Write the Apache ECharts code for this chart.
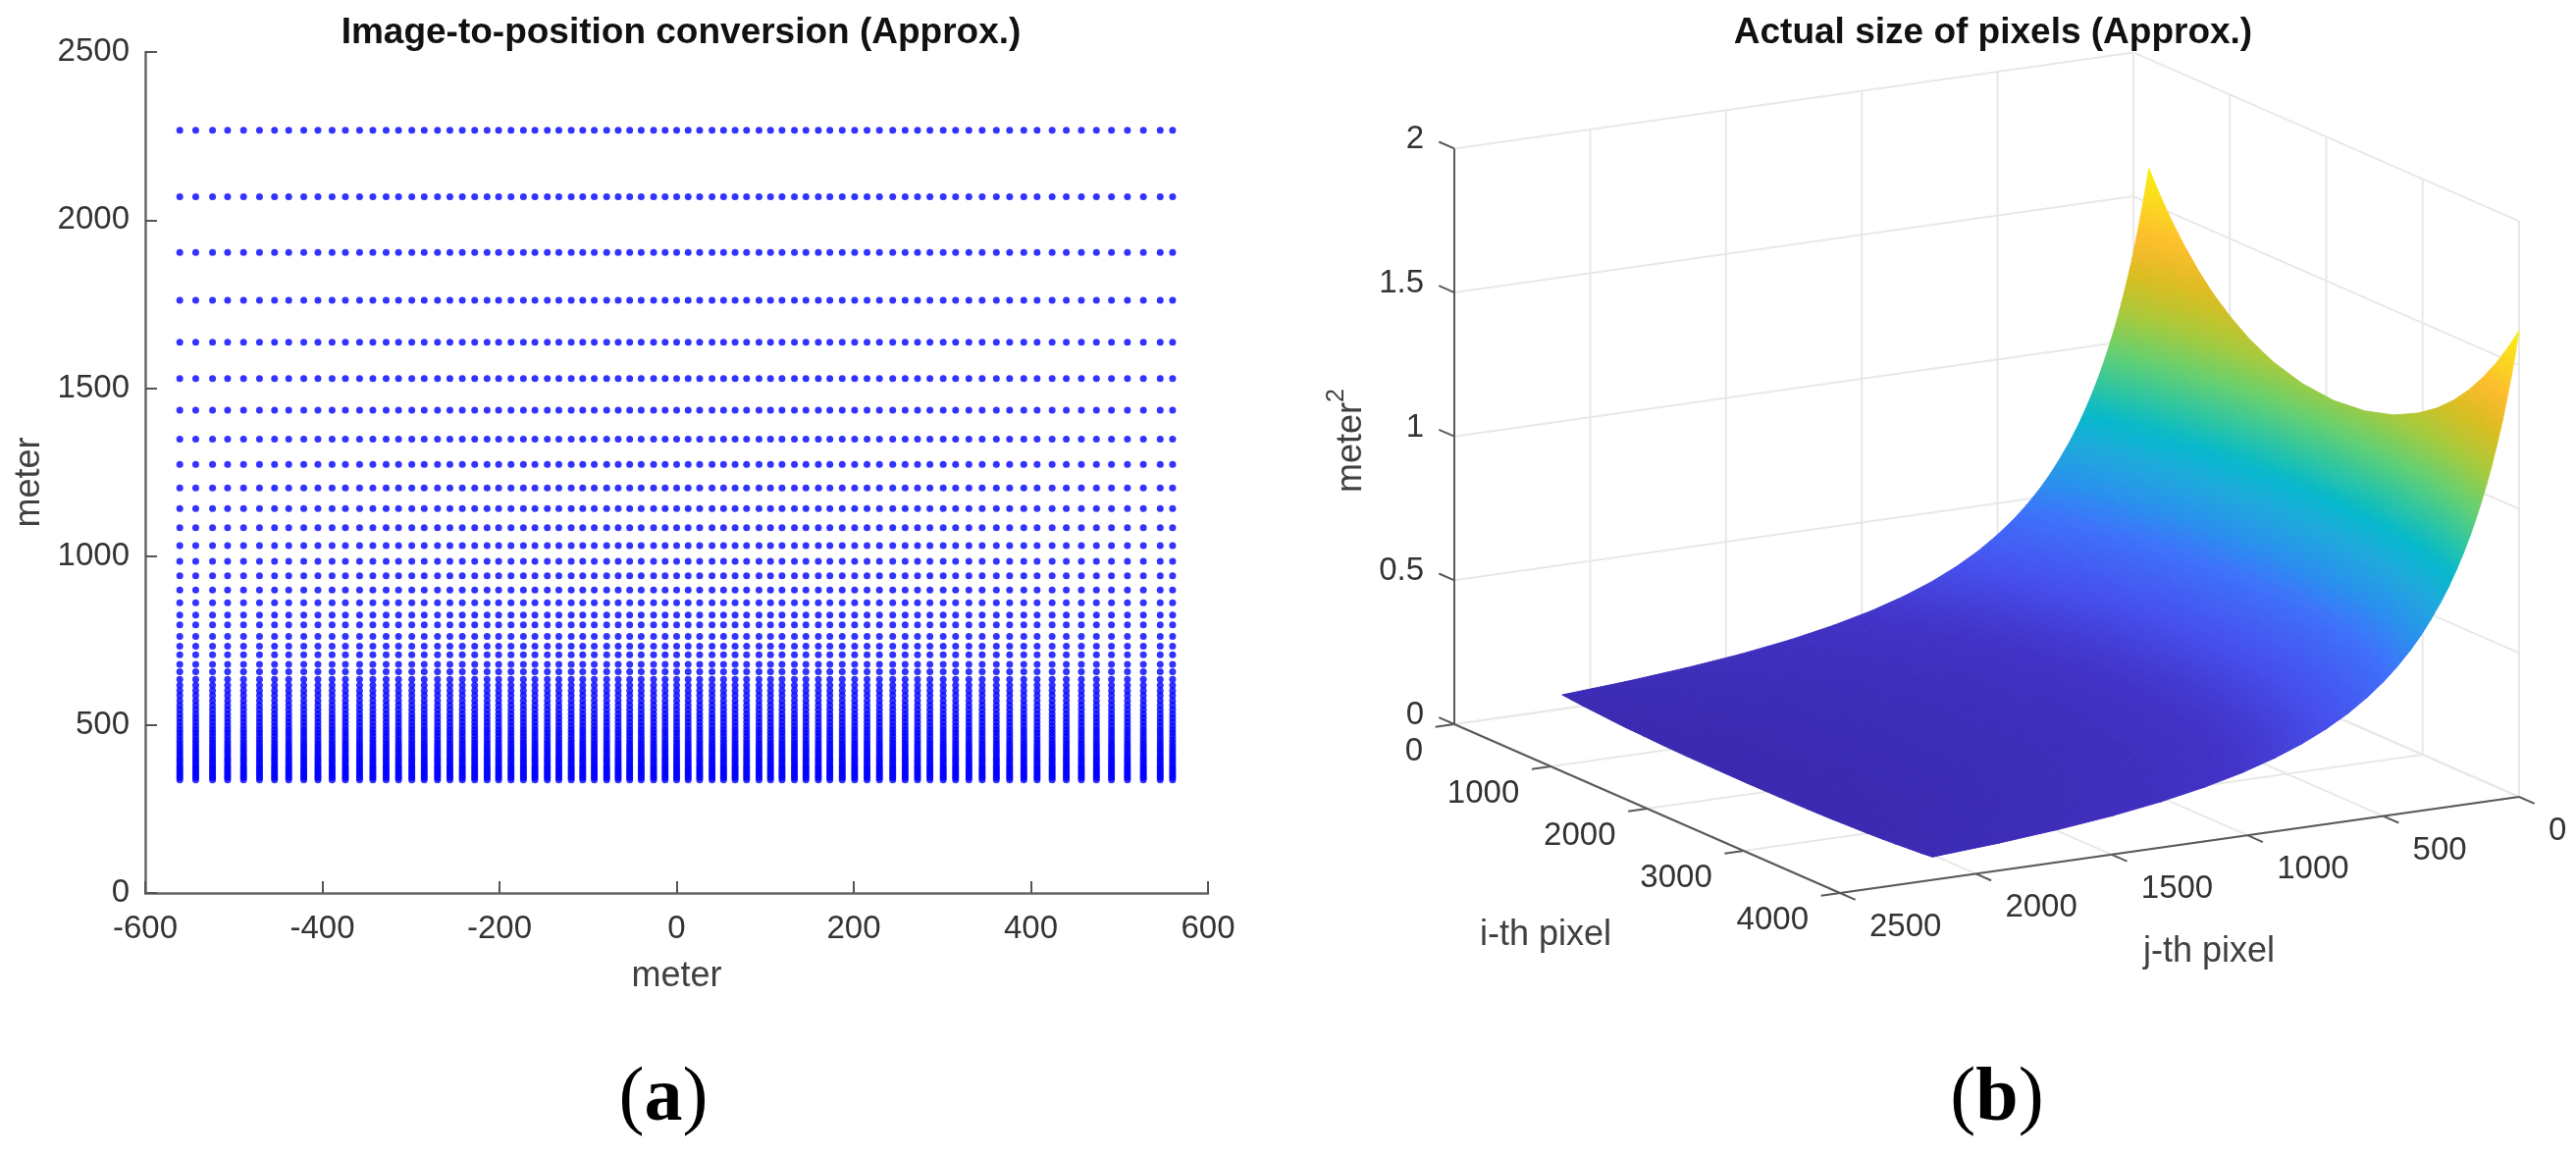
<!DOCTYPE html>
<html>
<head>
<meta charset="utf-8">
<title>Pixel position and size</title>
<script src="https://cdn.jsdelivr.net/npm/echarts@6/dist/echarts.min.js"></script>
<style>
html, body { margin: 0; padding: 0; background: #fff; }
#chart { width: 2625px; height: 1178px; }
</style>
</head>
<body>
<div id="chart"></div>
<script>
// left panel, ground position of the pixels (meter)
var columnX = [-561, -543, -524, -507, -489, -471, -454, -438, -421, -405, -389, -374, -358, -343, -328, -314,
    -299, -285, -270, -256, -242, -228, -214, -201, -187, -173, -160, -146, -133, -119, -106, -93, -79, -66, -53,
    -40, -26, -13, 0, 13, 26, 40, 53, 66, 79, 93, 106, 119, 133, 146, 160, 173, 187, 201, 215, 229, 244, 258, 272,
    286, 301, 315, 330, 345, 361, 376, 392, 407, 424, 440, 457, 474, 491, 509, 527, 546, 560];
var rowY = [2267, 2070, 1904, 1762, 1637, 1529, 1435, 1349, 1274, 1204, 1143, 1086, 1033, 986, 943, 901, 863, 826,
    797, 763, 734, 708, 680, 658, 635, 618, 602, 587, 572, 558, 545, 532, 520, 508, 497, 486, 476, 466, 456, 447,
    438, 430, 422, 414, 406, 399, 392, 385, 378, 372, 366, 360, 354, 348, 343, 336];

// right panel, pixel area (meter^2) read per column i and row j
var iPixel = [160, 260, 380, 520, 680, 820, 1000, 1200, 1450, 1750, 2080, 2400, 2700, 2950, 3150, 3320, 3480, 3620, 3760, 3890, 4000];
var jPixel = [0, 15, 30, 45, 60, 80, 100, 120, 140, 160, 180, 205, 230, 260, 290, 325, 360, 400, 450, 500, 560, 630, 710, 800, 900, 1020, 1160, 1320, 1500, 1700, 1920, 2160];
var pixelArea = [
    [1.62, 1.554, 1.482, 1.409, 1.338, 1.285, 1.230, 1.181, 1.137, 1.106, 1.095, 1.106, 1.136, 1.179, 1.226, 1.278, 1.338, 1.400, 1.471, 1.547, 1.62],
    [1.536, 1.473, 1.405, 1.336, 1.269, 1.218, 1.166, 1.120, 1.078, 1.049, 1.038, 1.049, 1.077, 1.118, 1.163, 1.212, 1.269, 1.327, 1.395, 1.467, 1.536],
    [1.459, 1.399, 1.335, 1.269, 1.205, 1.157, 1.107, 1.064, 1.024, .996, .986, .996, 1.023, 1.062, 1.104, 1.151, 1.205, 1.261, 1.325, 1.393, 1.459],
    [1.388, 1.331, 1.270, 1.208, 1.146, 1.101, 1.053, 1.012, .974, .948, .938, .948, .973, 1.010, 1.051, 1.095, 1.146, 1.199, 1.260, 1.326, 1.388],
    [1.32, 1.266, 1.208, 1.148, 1.090, 1.047, 1.002, .962, .927, .902, .892, .902, .925, .961, .999, 1.041, 1.090, 1.140, 1.199, 1.261, 1.32],
    [1.241, 1.190, 1.136, 1.080, 1.025, .984, .942, .905, .871, .848, .839, .848, .870, .903, .939, .979, 1.025, 1.072, 1.127, 1.185, 1.241],
    [1.167, 1.119, 1.068, 1.015, .964, .925, .886, .851, .819, .797, .789, .797, .818, .850, .883, .921, .964, 1.008, 1.060, 1.114, 1.167],
    [1.10, 1.055, 1.007, .957, .909, .872, .835, .802, .772, .751, .744, .751, .771, .801, .833, .868, .909, .950, .999, 1.051, 1.10],
    [1.04, .997, .952, .905, .859, .825, .789, .758, .730, .710, .703, .710, .729, .757, .787, .821, .859, .899, .944, .993, 1.04],
    [.984, .944, .900, .856, .813, .780, .747, .717, .691, .672, .665, .672, .690, .716, .745, .776, .813, .850, .893, .940, .984],
    [.932, .894, .853, .811, .770, .739, .707, .679, .654, .637, .630, .637, .653, .678, .706, .735, .770, .805, .846, .890, .932],
    [.874, .838, .800, .760, .722, .693, .663, .637, .614, .597, .591, .597, .613, .636, .662, .690, .722, .755, .794, .835, .874],
    [.821, .787, .751, .714, .678, .651, .623, .599, .576, .561, .555, .561, .576, .598, .622, .648, .678, .709, .745, .784, .821],
    [.763, .732, .698, .664, .630, .605, .579, .556, .536, .521, .516, .521, .535, .555, .578, .602, .630, .659, .693, .729, .763],
    [.712, .683, .651, .619, .588, .565, .540, .519, .500, .486, .481, .486, .499, .518, .539, .562, .588, .615, .646, .680, .712],
    [.659, .632, .603, .573, .544, .523, .500, .480, .463, .450, .445, .450, .462, .480, .499, .520, .544, .569, .598, .629, .659],
    [.611, .586, .559, .532, .505, .485, .464, .445, .429, .417, .413, .417, .428, .445, .463, .482, .505, .528, .555, .584, .611],
    [.563, .540, .515, .490, .465, .446, .427, .410, .395, .385, .381, .385, .395, .410, .426, .444, .465, .486, .511, .538, .563],
    [.511, .490, .468, .445, .422, .405, .388, .373, .359, .349, .345, .349, .358, .372, .387, .403, .422, .442, .464, .488, .511],
    [.466, .447, .426, .405, .385, .370, .354, .340, .327, .318, .315, .318, .327, .339, .353, .368, .385, .403, .423, .445, .466],
    [.420, .403, .384, .365, .347, .333, .319, .306, .295, .287, .284, .287, .294, .306, .318, .331, .347, .363, .381, .401, .420],
    [.374, .359, .342, .325, .309, .297, .284, .273, .263, .255, .253, .255, .262, .272, .283, .295, .309, .323, .340, .357, .374],
    [.331, .317, .303, .288, .273, .262, .251, .241, .232, .226, .224, .226, .232, .241, .251, .261, .273, .286, .301, .316, .331],
    [.291, .279, .266, .253, .240, .231, .221, .212, .204, .199, .197, .199, .204, .212, .220, .230, .240, .251, .264, .278, .291],
    [.255, .245, .233, .222, .211, .202, .194, .186, .179, .174, .172, .174, .179, .186, .193, .201, .211, .220, .232, .244, .255],
    [.220, .211, .201, .191, .182, .174, .167, .160, .154, .150, .149, .150, .154, .160, .167, .174, .182, .190, .200, .210, .220],
    [.188, .180, .172, .164, .155, .149, .143, .137, .132, .128, .127, .128, .132, .137, .142, .148, .155, .162, .171, .180, .188],
    [.159, .152, .145, .138, .131, .126, .121, .116, .112, .109, .107, .109, .111, .116, .120, .125, .131, .137, .144, .152, .159],
    [.134, .129, .123, .117, .111, .106, .102, .098, .094, .092, .091, .092, .094, .098, .101, .106, .111, .116, .122, .128, .134],
    [.113, .108, .103, .098, .093, .090, .086, .082, .079, .077, .076, .077, .079, .082, .086, .089, .093, .098, .103, .108, .113],
    [.095, .091, .087, .083, .079, .075, .072, .069, .067, .065, .064, .065, .067, .069, .072, .075, .079, .082, .086, .091, .095],
    [.080, .077, .073, .070, .066, .063, .061, .058, .056, .055, .054, .055, .056, .058, .061, .063, .066, .069, .073, .076, .080]
];
var iTicks = [0, 1000, 2000, 3000, 4000];
var jTicks = [0, 500, 1000, 1500, 2000, 2500];
var zTicks = [0, 0.5, 1, 1.5, 2];

var FONT = '"Liberation Sans", Arial, sans-serif';
var SERIF = '"Liberation Serif", serif';
var TICK_COLOR = '#333333';
var NAME_COLOR = '#404040';

// colour map of the surface, position in the z range then colour
var colorStops = [
    [0, '#3b2ab0'], [.1, '#4233c8'], [.18, '#4650ee'], [.28, '#3e72fb'], [.34, '#2a90ee'], [.41, '#1fa8dc'],
    [.475, '#05b8cc'], [.54, '#30c6a0'], [.61, '#66d070'], [.69, '#a8ca3c'], [.77, '#d8bd20'], [.85, '#fdbb2e'],
    [.93, '#fbd820'], [1, '#f8f010']
];
var Z_MIN = 0.054, Z_MAX = 1.62;

function hexRgb(hex) {
    return [parseInt(hex.substr(1, 2), 16), parseInt(hex.substr(3, 2), 16), parseInt(hex.substr(5, 2), 16)];
}

function areaColor(z) {
    var t = Math.max(0, Math.min(1, (z - Z_MIN) / (Z_MAX - Z_MIN)));
    for (var k = 1; k < colorStops.length; k++) {
        if (t <= colorStops[k][0]) {
            var a = hexRgb(colorStops[k - 1][1]), b = hexRgb(colorStops[k][1]);
            var f = (t - colorStops[k - 1][0]) / (colorStops[k][0] - colorStops[k - 1][0]);
            return 'rgb(' + Math.round(a[0] + (b[0] - a[0]) * f) + ',' + Math.round(a[1] + (b[1] - a[1]) * f) + ',' + Math.round(a[2] + (b[2] - a[2]) * f) + ')';
        }
    }
    return colorStops[colorStops.length - 1][1];
}

// oblique view of the 3d box: i runs to the lower right, j runs to the left, z goes up
function project(i, j, z) {
    return [
        1482 + i / 4000 * 393 + (2500 - j) / 2500 * 692,
        738 + i / 4000 * 172 - (2500 - j) / 2500 * 98 - z * 293.3
    ];
}

function segment(a, b) {
    return a.concat(b);
}

// faint grid on the two walls and the floor
var gridLines = [];
zTicks.forEach(function (z) {
    gridLines.push(segment(project(0, 2500, z), project(0, 0, z)));
    gridLines.push(segment(project(0, 0, z), project(4000, 0, z)));
});
jTicks.forEach(function (j) {
    gridLines.push(segment(project(0, j, 0), project(0, j, 2)));
    gridLines.push(segment(project(0, j, 0), project(4000, j, 0)));
});
iTicks.forEach(function (i) {
    gridLines.push(segment(project(i, 0, 0), project(i, 0, 2)));
    gridLines.push(segment(project(i, 0, 0), project(i, 2500, 0)));
});

// dark axis lines and their ticks
var axisLines = [
    segment(project(0, 2500, 0), project(0, 2500, 2)),
    segment(project(0, 2500, 0), project(4000, 2500, 0)),
    segment(project(4000, 2500, 0), project(4000, 0, 0))
];
zTicks.forEach(function (z) {
    axisLines.push(segment(project(0, 2500, z), project(-160, 2500, z)));
});
iTicks.forEach(function (i) {
    axisLines.push(segment(project(i, 2500, 0), project(i, 2500 + 70, 0)));
});
jTicks.forEach(function (j) {
    axisLines.push(segment(project(4000, j, 0), project(4000 + 160, j, 0)));
});

// tick labels and axis names of the 3d box
var boxTexts = [];
zTicks.forEach(function (z) {
    var p = project(0, 2500, z);
    boxTexts.push({ text: String(z), x: p[0] - 31, y: p[1] - 9, align: 'right', size: 33, color: TICK_COLOR });
});
iTicks.forEach(function (i) {
    var p = project(i, 2500, 0);
    boxTexts.push({ text: String(i), x: p[0] - 32, y: p[1] + 28, align: 'right', size: 33, color: TICK_COLOR });
});
jTicks.forEach(function (j) {
    var p = project(4000, j, 0);
    boxTexts.push({ text: String(j), x: p[0] + 30, y: p[1] + 35, align: 'left', size: 33, color: TICK_COLOR });
});
boxTexts.push({ text: 'i-th pixel', x: 1575, y: 953, align: 'center', size: 36, color: NAME_COLOR });
boxTexts.push({ text: 'j-th pixel', x: 2251, y: 970, align: 'center', size: 36, color: NAME_COLOR });
boxTexts.push({ text: 'meter', x: 1377, y: 456, align: 'center', size: 36, color: NAME_COLOR, rotate: Math.PI / 2 });
boxTexts.push({ text: '2', x: 1362, y: 403, align: 'center', size: 25, color: NAME_COLOR, rotate: Math.PI / 2 });

// surface triangles, back rows first so the nearer rows paint over them
var surfaceTriangles = [];
function addTriangle(a, b, c) {
    var pa = project(iPixel[a[1]], jPixel[a[0]], pixelArea[a[0]][a[1]]);
    var pb = project(iPixel[b[1]], jPixel[b[0]], pixelArea[b[0]][b[1]]);
    var pc = project(iPixel[c[1]], jPixel[c[0]], pixelArea[c[0]][c[1]]);
    surfaceTriangles.push([pa[0], pa[1], pb[0], pb[1], pc[0], pc[1],
        pixelArea[a[0]][a[1]], pixelArea[b[0]][b[1]], pixelArea[c[0]][c[1]]]);
}
for (var r = 0; r < jPixel.length - 1; r++) {
    for (var c = 0; c < iPixel.length - 1; c++) {
        addTriangle([r, c], [r, c + 1], [r + 1, c + 1]);
        addTriangle([r, c], [r + 1, c + 1], [r + 1, c]);
    }
}

var dots = [];
rowY.forEach(function (y) {
    columnX.forEach(function (x) {
        dots.push([x, y]);
    });
});

function renderSegment(color, width) {
    return function (params, api) {
        var a = api.coord([api.value(0), api.value(1)]);
        var b = api.coord([api.value(2), api.value(3)]);
        return {
            type: 'line',
            shape: { x1: a[0], y1: a[1], x2: b[0], y2: b[1] },
            style: { stroke: color, lineWidth: width }
        };
    };
}

// shade one triangle with a gradient that is linear in z across the screen
function renderTriangle(params, api) {
    var p = [
        api.coord([api.value(0), api.value(1)]),
        api.coord([api.value(2), api.value(3)]),
        api.coord([api.value(4), api.value(5)])
    ];
    var z = [api.value(6), api.value(7), api.value(8)];
    var dx1 = p[1][0] - p[0][0], dy1 = p[1][1] - p[0][1], dz1 = z[1] - z[0];
    var dx2 = p[2][0] - p[0][0], dy2 = p[2][1] - p[0][1], dz2 = z[2] - z[0];
    var det = dx1 * dy2 - dx2 * dy1;
    var gx = (dz1 * dy2 - dz2 * dy1) / det;
    var gy = (dx1 * dz2 - dx2 * dz1) / det;
    var g2 = gx * gx + gy * gy;
    var low = 0, high = 0;
    for (var k = 1; k < 3; k++) {
        if (z[k] < z[low]) low = k;
        if (z[k] > z[high]) high = k;
    }
    var fill = areaColor((z[0] + z[1] + z[2]) / 3);
    if (isFinite(g2) && g2 > 0) {
        var span = (z[high] - z[low]) / g2;
        fill = new echarts.graphic.LinearGradient(
            p[low][0], p[low][1], p[low][0] + gx * span, p[low][1] + gy * span,
            [
                { offset: 0, color: areaColor(z[low]) },
                { offset: 0.5, color: areaColor((z[low] + z[high]) / 2) },
                { offset: 1, color: areaColor(z[high]) }
            ],
            true
        );
    }
    return {
        type: 'polygon',
        shape: { points: p },
        style: { fill: fill, stroke: fill, lineWidth: 1 }
    };
}

function renderBoxText(params, api) {
    var t = boxTexts[params.dataIndex];
    var p = api.coord([api.value(0), api.value(1)]);
    return {
        type: 'text',
        x: p[0],
        y: p[1],
        rotation: t.rotate || 0,
        style: {
            x: 0,
            y: 0,
            text: t.text,
            fill: t.color,
            font: t.size + 'px ' + FONT,
            textAlign: t.align,
            align: t.align,
            textVerticalAlign: 'middle',
            verticalAlign: 'middle'
        }
    };
}

function plainNumber(value) {
    return String(value);
}

var panelLetterRich = {
    p: { fontFamily: SERIF, fontSize: 78, fontWeight: 'normal', color: '#000' },
    b: { fontFamily: SERIF, fontSize: 78, fontWeight: 'bold', color: '#000' }
};

var chart = echarts.init(document.getElementById('chart'));
var option = {
    animation: false,
    backgroundColor: '#ffffff',
    title: [
        {
            text: 'Image-to-position conversion (Approx.)',
            left: 689,
            top: 10,
            textAlign: 'center',
            textStyle: { fontFamily: FONT, fontSize: 37, fontWeight: 'bold', color: '#111111' }
        },
        {
            text: 'Actual size of pixels (Approx.)',
            left: 2026,
            top: 10,
            textAlign: 'center',
            textStyle: { fontFamily: FONT, fontSize: 37, fontWeight: 'bold', color: '#111111' }
        },
        {
            text: '{p|(}{b|a}{p|)}',
            left: 671,
            top: 1077,
            textAlign: 'center',
            textStyle: { rich: panelLetterRich }
        },
        {
            text: '{p|(}{b|b}{p|)}',
            left: 2030,
            top: 1077,
            textAlign: 'center',
            textStyle: { rich: panelLetterRich }
        }
    ],
    grid: [
        { left: 148, top: 53, width: 1083, height: 857 },
        { left: 1300, top: 0, width: 1325, height: 1178 }
    ],
    xAxis: [
        {
            type: 'value',
            min: -600,
            max: 600,
            interval: 200,
            name: 'meter',
            nameLocation: 'middle',
            nameGap: 67,
            nameTextStyle: { fontFamily: FONT, fontSize: 36, color: NAME_COLOR },
            splitLine: { show: false },
            axisLine: { lineStyle: { color: '#666666', width: 2.5 } },
            axisTick: { inside: true, length: 12, lineStyle: { color: '#555555', width: 2 } },
            axisLabel: { margin: 20, fontFamily: FONT, fontSize: 33, color: TICK_COLOR, formatter: plainNumber }
        },
        { gridIndex: 1, type: 'value', min: 1300, max: 2625, show: false }
    ],
    yAxis: [
        {
            type: 'value',
            min: 0,
            max: 2500,
            interval: 500,
            name: 'meter',
            nameLocation: 'middle',
            nameGap: 100,
            nameTextStyle: { fontFamily: FONT, fontSize: 36, color: NAME_COLOR, padding: [0, 20, 0, 0] },
            splitLine: { show: false },
            axisLine: { onZero: false, lineStyle: { color: '#666666', width: 2.5 } },
            axisTick: { inside: true, length: 12, lineStyle: { color: '#555555', width: 2 } },
            axisLabel: { margin: 16, fontFamily: FONT, fontSize: 33, color: TICK_COLOR, formatter: plainNumber }
        },
        { gridIndex: 1, type: 'value', min: 0, max: 1178, inverse: true, show: false }
    ],
    series: [
        {
            type: 'scatter',
            silent: true,
            progressive: 0,
            symbol: 'circle',
            symbolSize: 7,
            itemStyle: { color: '#0000ff' },
            data: dots
        },
        {
            type: 'custom',
            xAxisIndex: 1,
            yAxisIndex: 1,
            silent: true,
            clip: false,
            z: 1,
            renderItem: renderSegment('#e8e8e8', 2),
            encode: { x: [0, 2], y: [1, 3] },
            data: gridLines
        },
        {
            type: 'custom',
            xAxisIndex: 1,
            yAxisIndex: 1,
            silent: true,
            clip: false,
            z: 2,
            progressive: 0,
            renderItem: renderTriangle,
            encode: { x: [0, 2, 4], y: [1, 3, 5] },
            data: surfaceTriangles
        },
        {
            type: 'custom',
            xAxisIndex: 1,
            yAxisIndex: 1,
            silent: true,
            clip: false,
            z: 3,
            renderItem: renderSegment('#595959', 2),
            encode: { x: [0, 2], y: [1, 3] },
            data: axisLines
        },
        {
            type: 'custom',
            xAxisIndex: 1,
            yAxisIndex: 1,
            silent: true,
            clip: false,
            z: 4,
            renderItem: renderBoxText,
            encode: { x: 0, y: 1 },
            data: boxTexts.map(function (t) {
                return [t.x, t.y];
            })
        }
    ]
};
chart.setOption(option);
</script>
</body>
</html>
